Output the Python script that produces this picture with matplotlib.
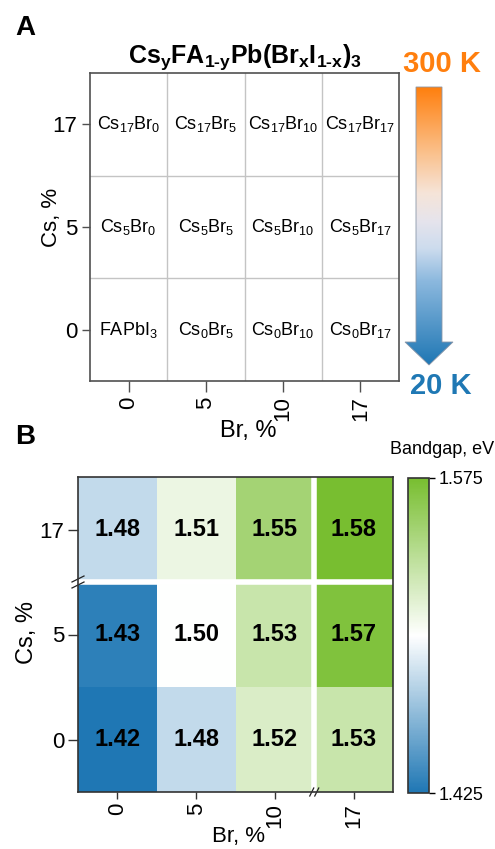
"""
Composition grid and bandgap map for the Cs/Br mixed perovskite series.
"""

import matplotlib
matplotlib.use("Agg")
import matplotlib.pyplot as plt
import numpy as np
from matplotlib import font_manager
from matplotlib.colors import LinearSegmentedColormap, Normalize
from matplotlib.patches import Polygon


# composition axes (percent)
BR_PCT = ["0", "5", "10", "17"]
CS_PCT = ["0", "5", "17"]

# sample names, rows are Cs = 0, 5, 17
SAMPLE_LABELS = [
    [r"FAPbI$_{3}$", r"Cs$_{0}$Br$_{5}$", r"Cs$_{0}$Br$_{10}$", r"Cs$_{0}$Br$_{17}$"],
    [r"Cs$_{5}$Br$_{0}$", r"Cs$_{5}$Br$_{5}$", r"Cs$_{5}$Br$_{10}$", r"Cs$_{5}$Br$_{17}$"],
    [r"Cs$_{17}$Br$_{0}$", r"Cs$_{17}$Br$_{5}$", r"Cs$_{17}$Br$_{10}$", r"Cs$_{17}$Br$_{17}$"],
]

# bandgap in eV, rows are Cs = 0, 5, 17
BANDGAP = [
    [1.42, 1.48, 1.52, 1.53],
    [1.43, 1.50, 1.53, 1.57],
    [1.48, 1.51, 1.55, 1.58],
]
BANDGAP_LIMITS = [1.425, 1.575]

TEMP_HIGH = "300 K"
TEMP_LOW = "20 K"
TITLE = r"$\mathbf{Cs_{y}FA_{1‐y}Pb(Br_{x}I_{1‐x})_{3}}$"

W, H = 495, 849

names = {f.name for f in font_manager.fontManager.ttflist}
NARROW = "Liberation Sans Narrow" if "Liberation Sans Narrow" in names else "Liberation Sans"

plt.rcParams["font.family"] = [NARROW, "DejaVu Sans"]
plt.rcParams["mathtext.fontset"] = "custom"
plt.rcParams["mathtext.rm"] = NARROW
plt.rcParams["mathtext.it"] = NARROW + ":italic"
plt.rcParams["mathtext.bf"] = NARROW + ":bold"

EDGE = "#505050"


def fig_rect(x0, y0, x1, y1):
    # pixel box (top-left origin) -> figure fraction rect
    return [x0 / W, 1 - y1 / H, (x1 - x0) / W, (y1 - y0) / H]


fig = plt.figure(figsize=(W / 100, H / 100), dpi=100)

# ---- panel A: sample grid ----
axA = fig.add_axes(fig_rect(90, 73, 399, 381))
axA.set_xlim(-0.5, len(BR_PCT) - 0.5)
axA.set_ylim(-0.5, len(CS_PCT) - 0.5)
for i in range(1, len(BR_PCT)):
    axA.axvline(i - 0.5, color="#c4c4c4", lw=1)
for j in range(1, len(CS_PCT)):
    axA.axhline(j - 0.5, color="#c4c4c4", lw=1)
for j, row in enumerate(SAMPLE_LABELS):
    for i, lab in enumerate(row):
        axA.text(i, j, lab, ha="center", va="center", fontsize=13)
axA.set_xticks(range(len(BR_PCT)), BR_PCT, rotation=90)
axA.set_yticks(range(len(CS_PCT)), CS_PCT)
axA.tick_params(axis="x", length=8, width=1, color=EDGE, pad=3, labelsize=16)
axA.tick_params(axis="y", length=6, width=1, color=EDGE, pad=3, labelsize=16)
for sp in axA.spines.values():
    sp.set_color(EDGE)
    sp.set_linewidth(1.2)
axA.set_xlabel("Br, %", fontsize=17)
axA.xaxis.set_label_coords(0.511, -0.125)
axA.set_ylabel("Cs, %", fontsize=16)
axA.yaxis.set_label_coords(-0.092, 0.53)
axA.set_title(TITLE, fontsize=18, pad=7)
fig.text(15 / W, 1 - 35 / H, "A", fontsize=20, weight="bold", family="Liberation Sans")

# temperature arrow
axT = fig.add_axes(fig_rect(400, 84, 460, 370))
axT.set_xlim(0, 60)
axT.set_ylim(0, 286)
axT.axis("off")
temp_cmap = LinearSegmentedColormap.from_list(
    "temp",
    [(0.0, "#1f77b4"), (0.3, "#8bb8de"), (0.42, "#cddcee"), (0.52, "#e6e4ec"),
     (0.62, "#f6e4d8"), (0.78, "#fbbd84"), (1.0, "#ff7f0e")],
)
arrow = Polygon([(16, 283), (42, 283), (42, 28), (53, 28), (29, 5), (5, 28), (16, 28)],
                closed=True, facecolor="none", edgecolor="#8a96a8", lw=0.6, zorder=3)
axT.add_patch(arrow)
grad = axT.imshow(np.linspace(0, 1, 256).reshape(-1, 1), cmap=temp_cmap, origin="lower",
                  extent=[0, 60, 5, 283], aspect="auto")
grad.set_clip_path(arrow)
fig.text(442 / W, 1 - 64 / H, TEMP_HIGH, ha="center", va="center", fontsize=21,
         weight="bold", color="#ff7f0e", family="Liberation Sans")
fig.text(441 / W, 1 - 386 / H, TEMP_LOW, ha="center", va="center", fontsize=21,
         weight="bold", color="#1f78b4", family="Liberation Sans")

# ---- panel B: bandgap map ----
bg = np.array(BANDGAP)
gap_cmap = LinearSegmentedColormap.from_list("gap", ["#1f77b4", "#ffffff", "#78be30"])
norm = Normalize(*BANDGAP_LIMITS)

axB = fig.add_axes(fig_rect(78, 477, 393, 792))
mesh = axB.pcolormesh(np.arange(len(BR_PCT) + 1) - 0.5, np.arange(len(CS_PCT) + 1) - 0.5,
                      bg, cmap=gap_cmap, norm=norm)
for j in range(bg.shape[0]):
    for i in range(bg.shape[1]):
        axB.text(i, j, f"{bg[j, i]:.2f}", ha="center", va="center", fontsize=17,
                 weight="bold", family="Liberation Sans")
# axis breaks between 10 -> 17 % Br and 5 -> 17 % Cs
axB.axvline(2.5, color="white", lw=4)
axB.axhline(1.5, color="white", lw=4)
axB.set_xlim(-0.5, len(BR_PCT) - 0.5)
axB.set_ylim(-0.5, len(CS_PCT) - 0.5)
axB.set_xticks(range(len(BR_PCT)), BR_PCT, rotation=90)
axB.set_yticks(range(len(CS_PCT)), CS_PCT)
axB.tick_params(axis="x", length=5, width=1, color="#333333", pad=3, labelsize=16)
axB.tick_params(axis="y", length=7, width=1, color="#333333", pad=3, labelsize=16)
for sp in axB.spines.values():
    sp.set_color("#333333")
    sp.set_linewidth(1.2)
axB.set_xlabel("Br, %", fontsize=16)
axB.xaxis.set_label_coords(0.508, -0.108)
axB.set_ylabel("Cs, %", fontsize=17)
axB.yaxis.set_label_coords(-0.127, 0.505)

# "//" break marks on the left and bottom spines
bw, bh = 315.0, 315.0
ybrk = (1.5 + 0.5) / len(CS_PCT)
for dy in (-3, 3):
    axB.plot([-6 / bw, 6 / bw], [ybrk + (dy - 3) / bh, ybrk + (dy + 3) / bh],
             transform=axB.transAxes, color="#222222", lw=0.9, clip_on=False)
xbrk = (2.5 + 0.5) / len(BR_PCT)
for dx in (-2.5, 2.5):
    axB.plot([xbrk + (dx - 2) / bw, xbrk + (dx + 2) / bw], [-4 / bh, 4 / bh],
             transform=axB.transAxes, color="#222222", lw=0.9, clip_on=False)
fig.text(15 / W, 1 - 444 / H, "B", fontsize=20, weight="bold", family="Liberation Sans")

cax = fig.add_axes(fig_rect(408, 478, 429, 793))
cb = fig.colorbar(mesh, cax=cax, ticks=BANDGAP_LIMITS, format="%.3f")
cb.outline.set_edgecolor("#333333")
cb.outline.set_linewidth(1.2)
cax.tick_params(length=4, width=1, pad=3, labelsize=13)
fig.text(442 / W, 1 - 450 / H, "Bandgap, eV", ha="center", va="center", fontsize=13,
         family="Liberation Sans")

fig.savefig("out.png", dpi=100)
